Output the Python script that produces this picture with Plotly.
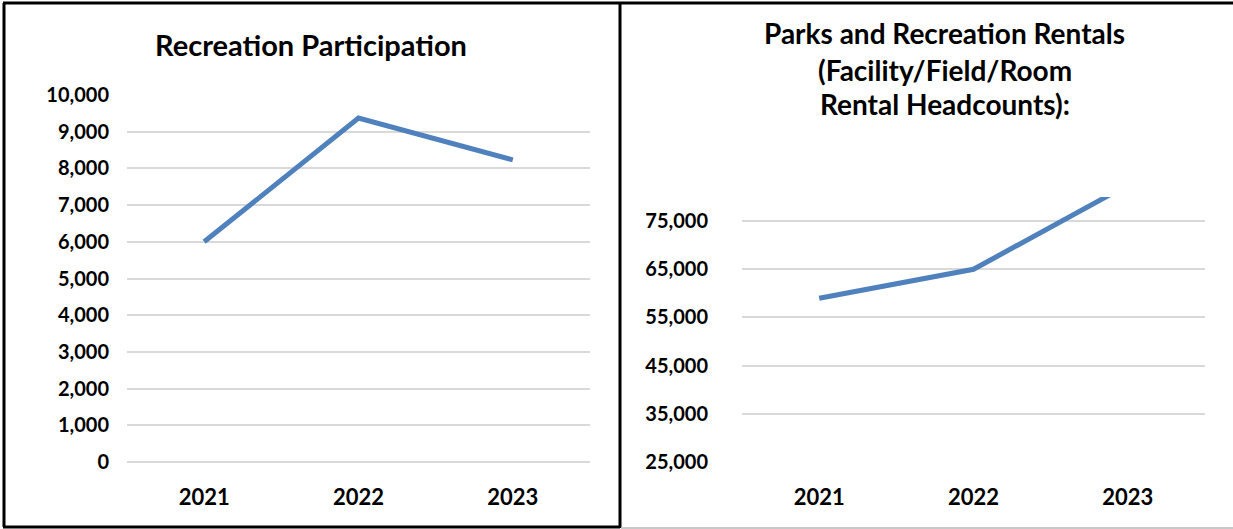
import plotly.graph_objects as go
from plotly.subplots import make_subplots

W, H = 1233, 529

years = ["2021", "2022", "2023"]
participation = [6000, 9370, 8230]
rentals = [59000, 65000, 82500]

left_ticks = list(range(0, 10001, 1000))
right_ticks = list(range(25000, 75001, 10000))

LINE_BLUE = "#4f81bd"
GRID = "#d9d9d9"
FONT = "Lato, Carlito, Calibri, sans-serif"


def px_x(x):
    return x / W


def px_y(y):
    return 1 - y / H


fig = make_subplots(rows=1, cols=2)

fig.add_trace(
    go.Scatter(x=years, y=participation, mode="lines",
               line=dict(color=LINE_BLUE, width=5), showlegend=False),
    row=1, col=1,
)
fig.add_trace(
    go.Scatter(x=years, y=rentals, mode="lines",
               line=dict(color=LINE_BLUE, width=5), showlegend=False),
    row=1, col=2,
)

tick_font = dict(family=FONT, size=20, color="black", weight="bold")
year_font = dict(family=FONT, size=22, color="black", weight="bold")

fig.update_xaxes(domain=[px_x(127), px_x(590)], row=1, col=1)
fig.update_xaxes(domain=[px_x(742), px_x(1205)], row=1, col=2)
fig.update_xaxes(range=[-0.5, 2.5], showgrid=False, zeroline=False,
                 showline=False, tickfont=year_font, ticks="",
                 ticklabelstandoff=20, automargin=False)

fig.update_yaxes(domain=[px_y(462), px_y(95)], range=[0, 10000],
                 tickvals=left_ticks, ticklabelstandoff=17, row=1, col=1)
fig.update_yaxes(domain=[px_y(462), px_y(197)], range=[25000, 80000],
                 tickvals=right_ticks, ticklabelstandoff=33, row=1, col=2)
fig.update_yaxes(showgrid=True, gridcolor=GRID, gridwidth=2,
                 zeroline=True, zerolinecolor=GRID, zerolinewidth=2,
                 showline=False, tickformat=",d", tickfont=tick_font,
                 ticks="", automargin=False)

fig.add_annotation(text="Recreation Participation", xref="paper", yref="paper",
                   x=px_x(311), y=px_y(44), xanchor="center", yanchor="middle",
                   showarrow=False,
                   font=dict(family=FONT, size=29, color="black", weight="bold"))

right_title = ["Parks and Recreation Rentals", "(Facility/Field/Room",
               "Rental Headcounts):"]
for line, ypos in zip(right_title, [33, 70, 104]):
    fig.add_annotation(text=line, xref="paper", yref="paper",
                       x=px_x(945), y=px_y(ypos), xanchor="center",
                       yanchor="middle", showarrow=False,
                       font=dict(family=FONT, size=28, color="black", weight="bold"))

# panel borders
borders = [
    (3, 3, 1233, 3, "black", 3),
    (4, 3, 4, 527, "black", 3),
    (3, 527, 620, 527, "black", 3),
    (620, 3, 620, 528, "black", 3),
    (621, 528, 1233, 528, "#c8c8c8", 2),
]
for x0, y0, x1, y1, color, w in borders:
    fig.add_shape(type="line", xref="paper", yref="paper",
                  x0=px_x(x0), y0=px_y(y0), x1=px_x(x1), y1=px_y(y1),
                  line=dict(color=color, width=w))

fig.update_layout(
    width=W, height=H,
    margin=dict(l=0, r=0, t=0, b=0, autoexpand=False),
    paper_bgcolor="white", plot_bgcolor="white",
    font=dict(family=FONT, color="black"),
)

fig.write_html("out.html", config={"displayModeBar": False},
               post_script="document.body.style.margin='0';")
